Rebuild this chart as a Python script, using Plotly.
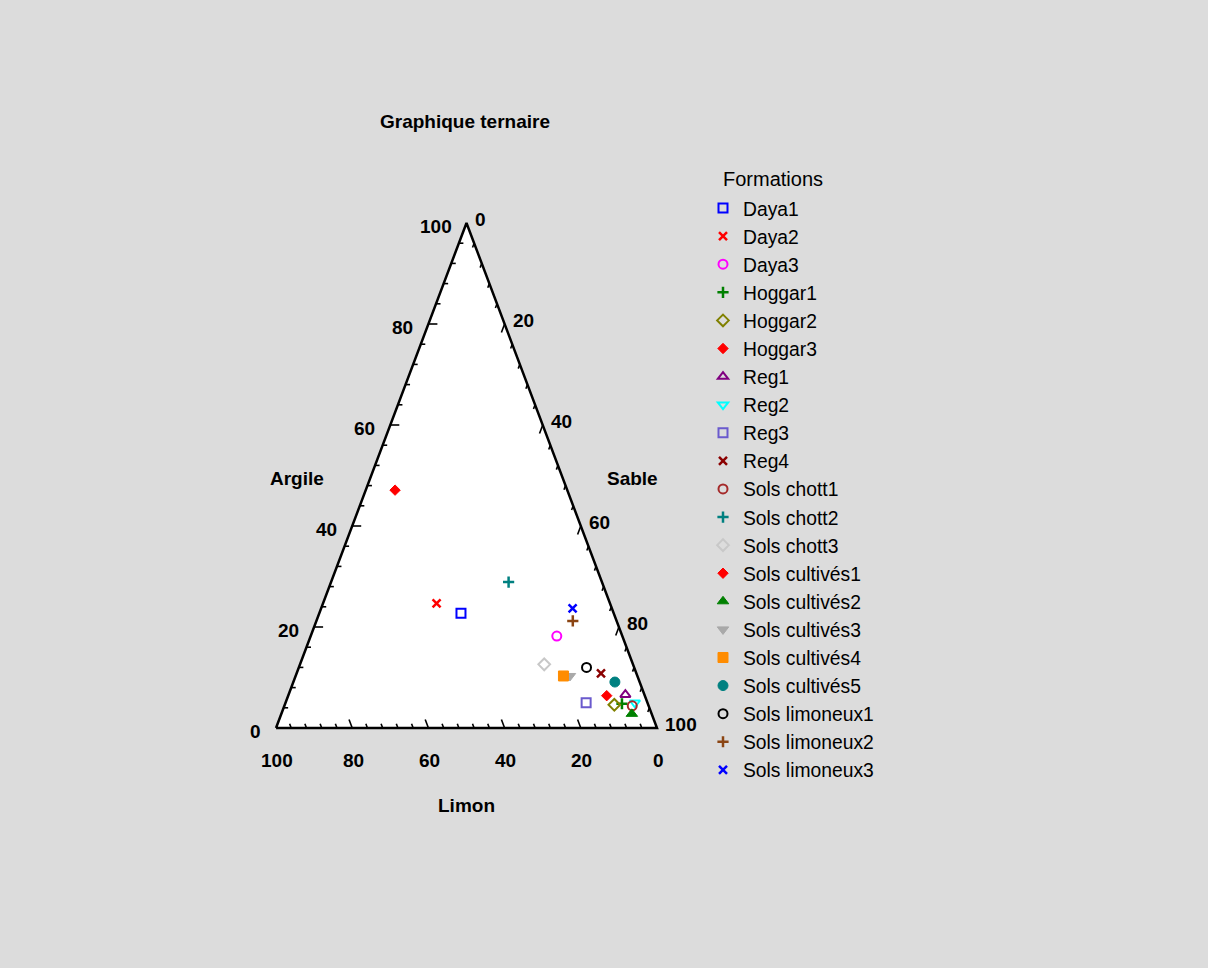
import plotly.graph_objects as go
import numpy as np

# ---------------- data ----------------
names = ["Daya1", "Daya2", "Daya3", "Hoggar1", "Hoggar2", "Hoggar3",
         "Reg1", "Reg2", "Reg3", "Reg4",
         "Sols chott1", "Sols chott2", "Sols chott3",
         "Sols cultivés1", "Sols cultivés2", "Sols cultivés3", "Sols cultivés4", "Sols cultivés5",
         "Sols limoneux1", "Sols limoneux2", "Sols limoneux3"]
argile = [22.7, 24.7, 18.2, 4.8, 4.6, 6.4,
          6.6, 5.0, 5.0, 10.8,
          4.4, 28.9, 12.6,
          47.1, 2.8, 10.3, 10.3, 9.1,
          12.0, 21.2, 23.7]
sable = [37.2, 29.8, 64.6, 88.4, 86.5, 83.6,
         88.4, 91.7, 78.9, 79.9,
         91.3, 46.6, 64.1,
         7.7, 92.0, 72.0, 70.3, 84.4,
         75.5, 67.3, 66.0]
limon = [round(100 - a - s, 1) for a, s in zip(argile, sable)]

symbols = ["square-open", "x-thin-open", "circle-open", "cross-thin-open", "diamond-open", "diamond",
           "triangle-up-open", "triangle-down-open", "square-open", "x-thin-open",
           "circle-open", "cross-thin-open", "diamond-open",
           "diamond", "triangle-up", "triangle-down", "square", "circle",
           "circle-open", "cross-thin-open", "x-thin-open"]
colors = ["#0000ff", "#ff0000", "#ff00ff", "#008000", "#808000", "#ff0000",
          "#800080", "#00ffff", "#6a5acd", "#8b0000",
          "#a52a2a", "#008080", "#c8c8c8",
          "#ff0000", "#008000", "#a9a9a9", "#ff8c00", "#008080",
          "#000000", "#8b4513", "#0000ff"]

tick_vals = list(range(0, 101, 4))
label_vals = [0, 20, 40, 60, 80, 100]

# ---------------- geometry helpers ----------------
W, H = 1208, 968
KX, KY = 3.81, 5.05            # pixels per ternary unit (horizontal / vertical)
X0, Y0 = 276, 728              # pixel position of the Limon=100 corner


def proj(a, s):
    """ternary (argile, sable) -> cartesian (x, y) in ternary units"""
    return s + a / 2.0, a


FONT = "Liberation Sans, Arial, sans-serif"

fig = go.Figure()

# triangle (white fill + black border)
corners = [(0, 0), (0, 100), (100, 0), (0, 0)]   # (argile, sable)
tx = [proj(a, s)[0] for a, s in corners]
ty = [proj(a, s)[1] for a, s in corners]
fig.add_trace(go.Scatter(x=tx, y=ty, mode="lines", fill="toself", fillcolor="white",
                         line=dict(color="black", width=2.5), hoverinfo="skip",
                         showlegend=False, cliponaxis=False))


def unit_dir(dx_px, dy_px):
    n = np.hypot(dx_px, dy_px)
    return dx_px / n / KX, dy_px / n / KY


# tick marks
tick_x, tick_y = [], []
dirs = {
    "argile": unit_dir(1.0, 0.0),
    "limon": unit_dir(-0.5 * KX, 1.0 * KY),
    "sable": unit_dir(-0.5 * KX, -1.0 * KY),
}
for v in tick_vals:
    if v in (0, 100):
        continue
    ln = 9.0 if v % 20 == 0 else 4.5
    # argile ticks on left edge (sable = 0)
    x, y = proj(v, 0)
    ux, uy = dirs["argile"]
    tick_x += [x, x + ux * ln, None]
    tick_y += [y, y + uy * ln, None]
    # limon ticks on bottom edge (argile = 0, sable = 100 - limon)
    x, y = proj(0, 100 - v)
    ux, uy = dirs["limon"]
    tick_x += [x, x + ux * ln, None]
    tick_y += [y, y + uy * ln, None]
    # sable ticks on right edge (limon = 0)
    x, y = proj(100 - v, v)
    ux, uy = dirs["sable"]
    tick_x += [x, x + ux * ln, None]
    tick_y += [y, y + uy * ln, None]
fig.add_trace(go.Scatter(x=tick_x, y=tick_y, mode="lines", line=dict(color="black", width=1.6),
                         hoverinfo="skip", showlegend=False, cliponaxis=False))

# data points
for i, n in enumerate(names):
    x, y = proj(argile[i], sable[i])
    sym = symbols[i]
    if sym == "diamond":
        size, lw = 8, 1
    elif sym.startswith(("x-thin", "cross-thin")):
        size, lw = 8, 2.5
    elif sym.endswith("open"):
        size, lw = 9, 2
    else:
        size, lw = 10, 1
    fig.add_trace(go.Scatter(
        x=[x], y=[y], mode="markers", name=n,
        marker=dict(symbol=sym, size=size, color=colors[i],
                    line=dict(color=colors[i], width=lw)),
        customdata=[[argile[i], limon[i], sable[i]]],
        hovertemplate="Argile %{customdata[0]}<br>Limon %{customdata[1]}<br>Sable %{customdata[2]}<extra>" + n + "</extra>",
        cliponaxis=False))

# tick labels
ann = []
tick_font = dict(family=FONT, size=19, color="black", weight="bold")
for v in label_vals:
    x, y = proj(v, 0)
    ann.append(dict(x=x, y=y, xref="x", yref="y", text=str(v), showarrow=False,
                    xanchor="right", yanchor="middle", xshift=-13, yshift=-3, font=tick_font))
    x, y = proj(100 - v, v)
    ann.append(dict(x=x, y=y, xref="x", yref="y", text=str(v), showarrow=False,
                    xanchor="left", yanchor="middle", xshift=6, yshift=4, font=tick_font))
    x, y = proj(0, 100 - v)
    ann.append(dict(x=x, y=y, xref="x", yref="y", text=str(v), showarrow=False,
                    xanchor="center", yanchor="middle", xshift=1, yshift=-32, font=tick_font))

# axis titles
for txt, px, py in [("Argile", 297, 479), ("Sable", 632, 479), ("Limon", 466, 805)]:
    ann.append(dict(x=px / W, y=1 - py / H, xref="paper", yref="paper", text=txt, showarrow=False,
                    xanchor="center", yanchor="middle", font=tick_font))

# legend heading
ann.append(dict(x=773 / W, y=1 - 179 / H, xref="paper", yref="paper", text="Formations", showarrow=False,
                xanchor="center", yanchor="middle", font=dict(family=FONT, size=20, color="black")))

fig.update_layout(
    width=W, height=H,
    margin=dict(l=0, r=0, t=0, b=0),
    paper_bgcolor="#dcdcdc", plot_bgcolor="#dcdcdc",
    title=dict(text="Graphique ternaire", x=465 / W, y=1 - 121 / H, xanchor="center", yanchor="middle",
               font=dict(family=FONT, size=19, color="black", weight="bold")),
    xaxis=dict(visible=False, range=[-X0 / KX, (W - X0) / KX], fixedrange=True),
    yaxis=dict(visible=False, range=[-(H - Y0) / KY, Y0 / KY], fixedrange=True),
    annotations=ann,
    showlegend=True,
    legend=dict(x=703 / W, y=1 - 189 / H, xanchor="left", yanchor="top",
                bgcolor="rgba(0,0,0,0)", font=dict(family=FONT, size=19.3, color="black"),
                tracegroupgap=0),
)

fig.write_html("out.html", config={"displayModeBar": False},
               post_script="document.body.style.margin='0';document.body.style.overflow='hidden';")
